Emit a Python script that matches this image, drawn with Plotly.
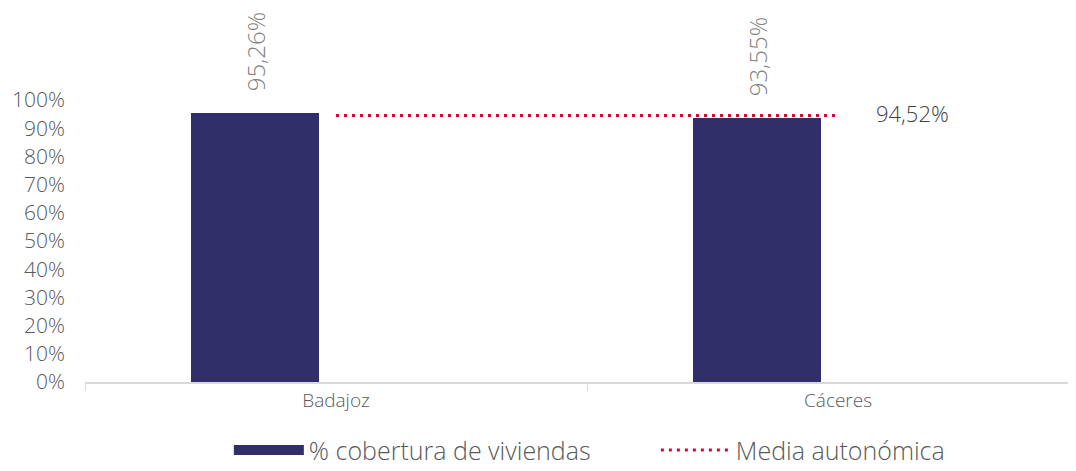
import plotly.graph_objects as go

categories = ["Badajoz", "Cáceres"]
cobertura = [95.26, 93.55]
media = [94.52, 94.52]
bar_labels = ["95,26%", "93,55%"]
media_label = "94,52%"
y_ticks = [0, 10, 20, 30, 40, 50, 60, 70, 80, 90, 100]
y_tick_text = [f"{v}%" for v in y_ticks]

FONT = "Open Sans"
NAVY = "#312f6a"
PAD = "\u00a0\u00a0\u00a0"
fig = go.Figure()
fig.add_trace(go.Bar(
    x=categories, y=cobertura, name="% cobertura de viviendas",
    marker=dict(color=NAVY, line=dict(width=0)),
    width=0.255, offset=-0.289, showlegend=False,
    text=[PAD + t for t in bar_labels], textposition="outside", textangle=-90, constraintext="none",
    textfont=dict(family=FONT, size=24, color="#7f7f7f", weight=300),
    cliponaxis=False,
))
# legend-only entry for the bar series (wide swatch)
fig.add_trace(go.Scatter(
    x=[None], y=[None], name="% cobertura de viviendas", mode="lines",
    line=dict(color=NAVY, width=10),
))
fig.add_trace(go.Scatter(
    x=categories, y=media, name="Media autonómica", mode="lines",
    line=dict(color="#d40a2c", width=3, dash="3px,5px"),
))
fig.add_annotation(
    x=categories[-1], y=media[-1], xref="x", yref="y", text=media_label,
    showarrow=False, xanchor="left", xshift=36, yshift=2,
    font=dict(family=FONT, size=22, color="#404040", weight=300),
)
fig.update_layout(
    width=1076, height=463,
    margin=dict(l=77, r=0, t=92, b=89, autoexpand=False),
    plot_bgcolor="white", paper_bgcolor="white",
    bargap=0,
    showlegend=True,
    legend=dict(orientation="h", x=0.144, xanchor="left", yref="container", y=0.045, yanchor="middle",
                font=dict(family=FONT, size=25, color="#595959", weight=300),
                itemwidth=70, tracegroupgap=0, entrywidth=342),
    font=dict(family=FONT, color="#595959"),
)
fig.update_xaxes(
    type="category", range=[-0.5, 1.49], automargin=False,
    showline=True, linecolor="#d9d9d9", linewidth=2,
    ticks="outside", tickson="boundaries", ticklen=7, tickcolor="#d9d9d9",
    tickfont=dict(family=FONT, size=19, color="#595959", weight=300),
    showgrid=False,
)
fig.update_yaxes(
    range=[0, 100], tickvals=y_ticks, ticktext=y_tick_text, automargin=False,
    showgrid=False, zeroline=False, showline=False,
    tickfont=dict(family=FONT, size=21, color="#595959", weight=300),
    ticklabelstandoff=19,
)
fig.write_html("out.html")
